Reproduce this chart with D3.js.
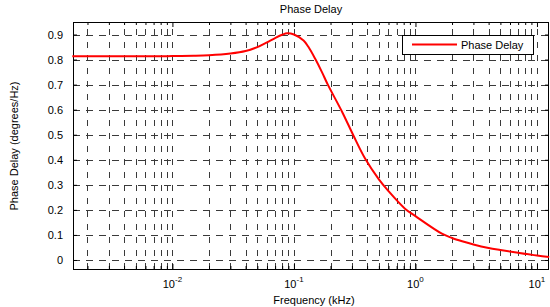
<!DOCTYPE html>
<html>
<head>
<meta charset="utf-8">
<script src="https://cdn.jsdelivr.net/npm/d3@7"></script>
<style>
  body { margin: 0; background: #fff; }
  svg { display: block; font-family: "Liberation Sans", Arial, sans-serif; }
</style>
</head>
<body>
<svg id="chart" width="550" height="307"></svg>
<script>
// data
const freqKHz = [0.0015, 0.003, 0.005, 0.008, 0.01, 0.015, 0.02, 0.03, 0.04, 0.05, 0.06, 0.07, 0.08, 0.088, 0.1, 0.12, 0.131, 0.15, 0.17, 0.19, 0.25, 0.31, 0.385, 0.5, 0.6, 0.82, 1, 1.65, 2, 2.5, 3, 4, 5, 7, 10, 12.6];
const phaseDelay = [0.813, 0.813, 0.813, 0.813, 0.814, 0.815, 0.817, 0.824, 0.834, 0.85, 0.869, 0.886, 0.899, 0.905, 0.9, 0.876, 0.852, 0.802, 0.75, 0.7, 0.59, 0.495, 0.405, 0.322, 0.275, 0.205, 0.175, 0.105, 0.088, 0.073, 0.062, 0.048, 0.04, 0.029, 0.018, 0.012];
const yTicks = [0, 0.1, 0.2, 0.3, 0.4, 0.5, 0.6, 0.7, 0.8, 0.9];
const yTickLabels = ["0", "0.1", "0.2", "0.3", "0.4", "0.5", "0.6", "0.7", "0.8", "0.9"];
const xMajor = [0.01, 0.1, 1, 10];
const xMajorExp = ["-2", "-1", "0", "1"];
const seriesName = "Phase Delay";

const svg = d3.select("#chart");
const pLeft = 73, pRight = 549, pTop = 22, pBottom = 269;

const x = d3.scaleLog().domain([0.00152, 12.56]).range([pLeft, pRight]);
const y = d3.scaleLinear().domain([-0.036, 0.95]).range([pBottom, pTop]);

// minor decade ticks 2..9 x 10^k inside the domain
let xMinor = [];
[0.001, 0.01, 0.1, 1, 10].forEach(dec => {
    for (let m = 2; m <= 9; m++) {
        let v = +(m * dec).toPrecision(3);
        if (v >= x.domain()[0] && v <= x.domain()[1]) xMinor.push(v);
    }
});
const xGrid = xMinor.concat(xMajor).sort((a, b) => a - b);

// grid (dotted in matlab, looks dashed at this size)
const grid = svg.append("g").attr("class", "grid")
    .attr("stroke", "#3a3a3a").attr("stroke-width", 1);

grid.selectAll("line.v").data(xGrid).enter().append("line")
    .attr("class", "v")
    .attr("x1", d => Math.round(x(d)) + 0.5).attr("x2", d => Math.round(x(d)) + 0.5)
    .attr("y1", pBottom).attr("y2", pTop)
    .attr("stroke-dasharray", "6,7");

grid.selectAll("line.h").data(yTicks).enter().append("line")
    .attr("class", "h")
    .attr("y1", d => Math.round(y(d)) + 0.5).attr("y2", d => Math.round(y(d)) + 0.5)
    .attr("x1", pLeft).attr("x2", pRight)
    .attr("stroke-dasharray", "7,6");

// axes with inward ticks
const yAxisL = d3.axisLeft(y).tickValues(yTicks)
    .tickFormat((d, i) => yTickLabels[i]).tickSize(-4).tickPadding(10);
const yAxisR = d3.axisRight(y).tickValues(yTicks).tickFormat("").tickSize(-4);
const xMajBot = d3.axisBottom(x).tickValues(xMajor).tickFormat("").tickSize(-5);
const xMinBot = d3.axisBottom(x).tickValues(xMinor).tickFormat("").tickSize(-3);
const xMajTop = d3.axisTop(x).tickValues(xMajor).tickFormat("").tickSize(-5);
const xMinTop = d3.axisTop(x).tickValues(xMinor).tickFormat("").tickSize(-3);

function styleAxis(g) {
    g.select(".domain").remove();
    g.selectAll("line").attr("stroke", "#000");
    g.selectAll("text").attr("fill", "#000")
        .attr("font-family", "Liberation Sans, Arial, sans-serif")
        .style("font-size", "11px");
}
svg.append("g").attr("transform", `translate(${pLeft},0)`).call(yAxisL).call(styleAxis);
svg.append("g").attr("transform", `translate(${pRight},0)`).call(yAxisR).call(styleAxis);
svg.append("g").attr("transform", `translate(0,${pBottom})`).call(xMajBot).call(styleAxis);
svg.append("g").attr("transform", `translate(0,${pBottom})`).call(xMinBot).call(styleAxis);
svg.append("g").attr("transform", `translate(0,${pTop})`).call(xMajTop).call(styleAxis);
svg.append("g").attr("transform", `translate(0,${pTop})`).call(xMinTop).call(styleAxis);

// x tick labels 10^k
const xl = svg.append("g").selectAll("text").data(xMajor).enter().append("text")
    .attr("x", d => x(d))
    .attr("y", 288)
    .attr("text-anchor", "middle")
    .style("font-size", "11px");
xl.append("tspan").text("10");
xl.append("tspan").text((d, i) => xMajorExp[i])
    .attr("dy", -6).style("font-size", "8px");

// box
svg.append("rect")
    .attr("x", pLeft + 0.5).attr("y", pTop + 0.5)
    .attr("width", pRight - pLeft - 1).attr("height", pBottom - pTop)
    .attr("fill", "none").attr("stroke", "#000").attr("stroke-width", 1);

// the curve
const line = d3.line()
    .x((d, i) => x(freqKHz[i]))
    .y(d => y(d))
    .curve(d3.curveCatmullRom.alpha(0.5));

svg.append("path")
    .datum(phaseDelay)
    .attr("d", line)
    .attr("fill", "none")
    .attr("stroke", "#ff0000")
    .attr("stroke-width", 2);

// legend
const lg = svg.append("g").attr("transform", "translate(402,35)");
lg.append("rect").attr("x", 0.5).attr("y", 0.5).attr("width", 131).attr("height", 19)
    .attr("fill", "#fff").attr("stroke", "#000");
lg.append("line").attr("x1", 10).attr("x2", 55).attr("y1", 9.5).attr("y2", 9.5)
    .attr("stroke", "#ff0000").attr("stroke-width", 2);
lg.append("text").attr("x", 59).attr("y", 13.5).style("font-size", "11px").text(seriesName);

// titles
svg.append("text").attr("x", 311).attr("y", 13).attr("text-anchor", "middle")
    .style("font-size", "11px").text("Phase Delay");
svg.append("text").attr("x", 314).attr("y", 304).attr("text-anchor", "middle")
    .style("font-size", "11px").text("Frequency (kHz)");
svg.append("text")
    .attr("transform", "translate(18,146) rotate(-90)")
    .attr("text-anchor", "middle")
    .style("font-size", "11px").text("Phase Delay (degrees/Hz)");
</script>
</body>
</html>
